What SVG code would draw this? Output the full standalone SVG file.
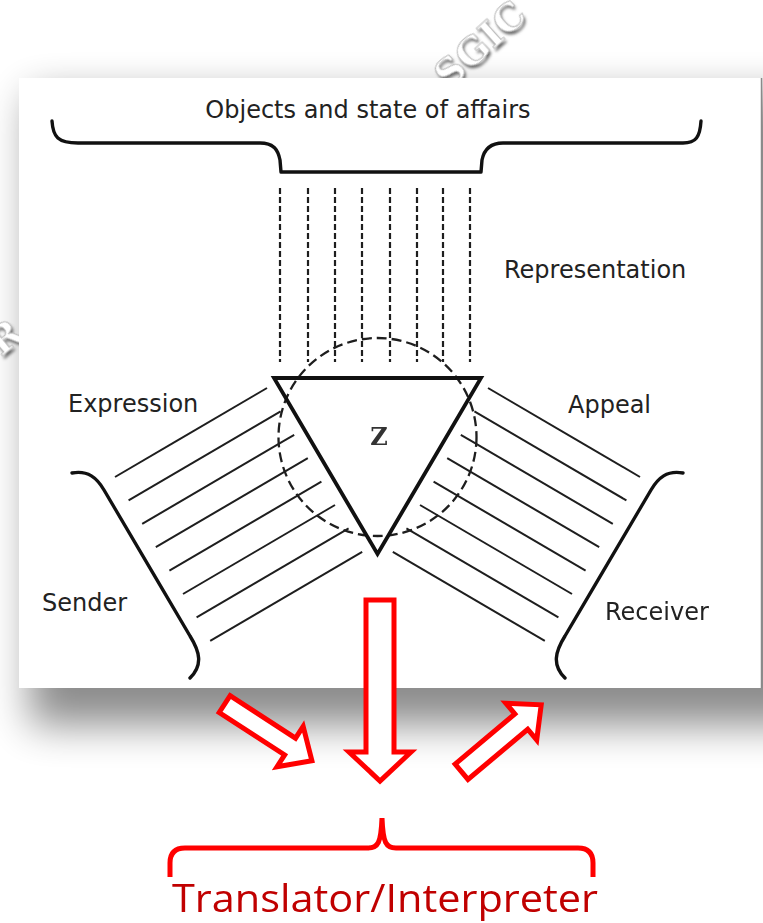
<svg xmlns="http://www.w3.org/2000/svg" xmlns:xlink="http://www.w3.org/1999/xlink" width="763" height="923" viewBox="0 0 763 923">
  <style>
    .lbl { font-family: "DejaVu Sans", Verdana, sans-serif; font-size: 24px; fill: #222; }
    .wm { font-family: "DejaVu Serif", "Liberation Serif", serif; font-weight: bold; font-size: 38px; fill: #fff; stroke: #bdbdbd; stroke-width: 1; }
    .wmsh { font-family: "DejaVu Serif", "Liberation Serif", serif; font-weight: bold; font-size: 38px; fill: #6a6a6a; }
    .ray { stroke: #1e1e1e; stroke-width: 2; fill: none; }
    .dash { stroke: #1e1e1e; stroke-width: 2.2; stroke-dasharray: 6 3; fill: none; }
    .bk { stroke: #111; stroke-width: 3.4; fill: none; stroke-linecap: round; stroke-linejoin: round; }
    .red { stroke: #ff0000; stroke-width: 5; fill: #fff; stroke-linejoin: miter; }
  </style>
  <defs>
    <filter id="shadow" filterUnits="userSpaceOnUse" x="-100" y="-50" width="1000" height="1000">
      <feGaussianBlur stdDeviation="20"/>
    </filter>
    <filter id="wmblur" filterUnits="userSpaceOnUse" x="0" y="0" width="763" height="923">
      <feGaussianBlur stdDeviation="1.6"/>
    </filter>
    <g id="rays">
      <line class="ray" x1="115" y1="477" x2="267" y2="388"/>
      <line class="ray" x1="128.6" y1="500.4" x2="280.6" y2="411.4"/>
      <line class="ray" x1="142.2" y1="523.8" x2="294.2" y2="434.8"/>
      <line class="ray" x1="155.8" y1="547.2" x2="307.8" y2="458.2"/>
      <line class="ray" x1="169.4" y1="570.6" x2="321.4" y2="481.6"/>
      <line class="ray" x1="183" y1="594" x2="335" y2="505"/>
      <line class="ray" x1="196.6" y1="617.4" x2="348.6" y2="528.4"/>
      <line class="ray" x1="210.2" y1="640.8" x2="362.2" y2="551.8"/>
    </g>
    <path id="sidebrace" class="bk" d="M72,473 C88,470 97,478 104,490 L190,636 C200,652 203,665 190,678"/>
    <polygon id="slant" class="red" points="2,-10 80,-10 80,-24 106,0 80,24 80,10 2,10"/>
  </defs>

  <!-- background, watermark and panel shadow -->
  <rect x="0" y="0" width="763" height="923" fill="#fff"/>
  <rect x="30" y="95" width="800" height="630" fill="#000" opacity="0.45" filter="url(#shadow)"/>
  <g id="watermark">
    <g filter="url(#wmblur)">
      <text class="wmsh" transform="translate(482,47) rotate(-42)" text-anchor="middle" x="0" y="13">SGIC</text>
      <text class="wmsh" transform="translate(7,340) rotate(-40)" text-anchor="middle" x="0" y="13">R</text>
    </g>
    <text class="wm" transform="translate(480,44) rotate(-42)" text-anchor="middle" x="0" y="13">SGIC</text>
    <text class="wm" transform="translate(5,337) rotate(-40)" text-anchor="middle" x="0" y="13">R</text>
  </g>
  <rect x="19" y="78" width="743" height="610" fill="#fff"/>
  <line x1="761.5" y1="78" x2="761.5" y2="688" stroke="#8a8a8a" stroke-width="1.5"/>

  <!-- nodes -->
  <g id="node-objects">
    <path class="bk" d="M52,121 C53,137 58,143 78,143 L260,143 C274,143 278,150 280,160 L281,172 L481,172 L482,160 C484,150 490,143 503,143 L683,143 C696,143 700,137 701,121"/>
    <text class="lbl" x="368" y="118" text-anchor="middle" font-size="25">Objects and state of affairs</text>
  </g>
  <g id="node-representation">
    <text class="lbl" x="504" y="278">Representation</text>
  </g>
  <g id="node-expression">
    <text class="lbl" x="68" y="412">Expression</text>
  </g>
  <g id="node-appeal">
    <text class="lbl" x="568" y="413">Appeal</text>
  </g>
  <g id="node-sender">
    <use xlink:href="#sidebrace"/>
    <text class="lbl" x="42" y="611">Sender</text>
  </g>
  <g id="node-receiver">
    <use xlink:href="#sidebrace" transform="matrix(-1,0,0,1,755,0)"/>
    <text class="lbl" x="605" y="620">Receiver</text>
  </g>
  <g id="node-z">
    <circle cx="377.5" cy="437" r="99" fill="none" stroke="#1e1e1e" stroke-width="2.3" stroke-dasharray="10 5"/>
    <polygon points="274,378 481,378 377.5,554" fill="none" stroke="#111" stroke-width="3.8" stroke-linejoin="miter"/>
    <text x="379" y="445" text-anchor="middle" font-family="DejaVu Serif, serif" font-size="24" font-weight="bold" fill="#333">Z</text>
  </g>
  <g id="node-translator">
    <path d="M170,877 L170,863 Q170,848 185,848 L368,848 C378,848 381,843 382,818 C383,843 386,848 396,848 L578,848 Q593,848 593,863 L593,877" fill="none" stroke="#ff0000" stroke-width="5"/>
    <text x="172" y="912" font-family="Open Sans, Noto Sans, sans-serif" font-size="39" fill="#c00000" textLength="426" lengthAdjust="spacingAndGlyphs">Translator/Interpreter</text>
  </g>

  <!-- connectors -->
  <g id="connectors">
    <line class="dash" x1="280" y1="188" x2="280" y2="362"/>
    <line class="dash" x1="308" y1="188" x2="308" y2="362"/>
    <line class="dash" x1="335" y1="188" x2="335" y2="362"/>
    <line class="dash" x1="362" y1="188" x2="362" y2="362"/>
    <line class="dash" x1="390" y1="188" x2="390" y2="362"/>
    <line class="dash" x1="417" y1="188" x2="417" y2="362"/>
    <line class="dash" x1="443" y1="188" x2="443" y2="362"/>
    <line class="dash" x1="470" y1="188" x2="470" y2="362"/>
    <use xlink:href="#rays"/>
    <use xlink:href="#rays" transform="matrix(-1,0,0,1,755,0)"/>
    <polygon class="red" points="366,600 394,600 394,752 411,752 380,781 349,752 366,752"/>
    <use xlink:href="#slant" transform="translate(223,703) rotate(33)"/>
    <use xlink:href="#slant" transform="translate(460,773) rotate(-40)"/>
  </g>
</svg>
